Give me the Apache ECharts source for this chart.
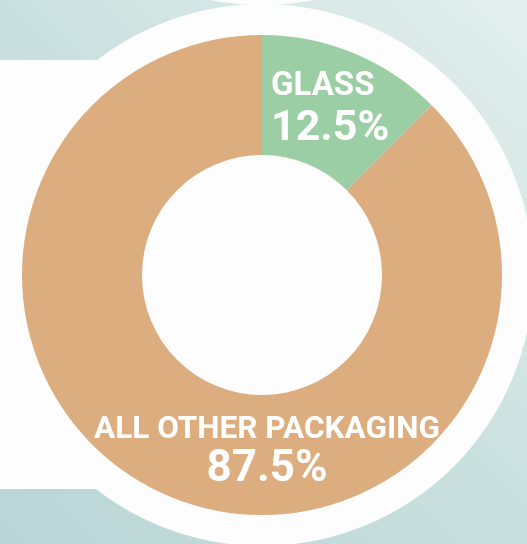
<!DOCTYPE html>
<html>
<head>
<meta charset="utf-8">
<script src="https://cdn.jsdelivr.net/npm/echarts@6/dist/echarts.min.js"></script>
<style>
    html, body {margin: 0; padding: 0;}
    #chartWrap {width: 527px; height: 544px;}
</style>
</head>
<body>
<div id="chartWrap"></div>
<script>
// packaging share
const categories = ['GLASS', 'ALL OTHER PACKAGING'];
const shares = [12.5, 87.5];
const colors = ['#9ccea5', '#dcad7e'];

const myChart = echarts.init(document.getElementById('chartWrap'));

const pieData = categories.map(function (name, i) {
    return {
        name: name,
        value: shares[i],
        itemStyle: {color: colors[i]}
    };
});

const option = {
    backgroundColor: new echarts.graphic.LinearGradient(1, 0, 0, 1, [
        {offset: 0, color: '#e3efee'},
        {offset: 0.5, color: '#c9e0de'},
        {offset: 1, color: '#b9d5d5'}
    ]),
    graphic: [
        {type: 'rect', z: 0, shape: {x: 0, y: 60, width: 120, height: 429}, style: {fill: '#fdfdfd'}},
        {type: 'circle', z: 0, shape: {cx: 262, cy: 275, r: 271}, style: {fill: '#fdfdfd'}},
        {type: 'circle', z: 0, shape: {cx: 262, cy: -270, r: 275}, style: {fill: '#fdfdfd'}}
    ],
    series: [{
        type: 'pie',
        z: 5,
        center: [262, 275],
        radius: [120, 240],
        startAngle: 90,
        clockwise: true,
        silent: true,
        data: pieData,
        itemStyle: {borderWidth: 0},
        label: {
            show: true,
            position: 'inside',
            color: '#ffffff',
            fontFamily: 'Roboto',
            fontWeight: 'bold',
            formatter: function (p) {
                if (p.dataIndex === 0) {
                    return '{n|' + p.name + '}\n{v|' + p.value + '%}';
                }
                return '{n2|' + p.name + '}\n{v2|' + p.value + '%}';
            },
            rich: {
                n: {fontFamily: 'Roboto', fontWeight: 'bold', fontSize: 33, color: '#fff', lineHeight: 38},
                v: {fontFamily: 'Roboto', fontWeight: 'bold', fontSize: 43, color: '#fff', lineHeight: 46},
                n2: {fontFamily: 'Roboto', fontWeight: 'bold', fontSize: 31.5, color: '#fff', lineHeight: 36},
                v2: {fontFamily: 'Roboto', fontWeight: 'bold', fontSize: 44, color: '#fff', lineHeight: 44}
            }
        },
        labelLayout: function (params) {
            if (params.dataIndex === 0) {
                return {dx: 9, dy: 4, align: 'left', x: params.rect.x};
            }
            return {dx: 75, dy: 8};
        },
        labelLine: {show: false}
    }]
};

myChart.setOption(option);
</script>
</body>
</html>
